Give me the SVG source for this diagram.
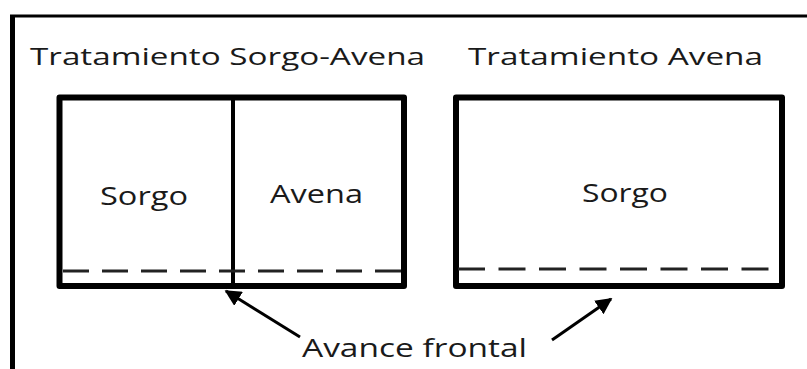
<svg xmlns="http://www.w3.org/2000/svg" width="807" height="369" viewBox="0 0 807 369">
  <defs>
    <style>
      .lbl { font-family: "Open Sans", "Liberation Sans", sans-serif; fill: #1a1a1a; }
      .box { fill: none; stroke: #000; stroke-width: 6; stroke-linejoin: round; }
      .dash { fill: none; stroke: #222; stroke-width: 3; }
      .arrow { fill: none; stroke: #000; stroke-width: 3; marker-end: url(#ah); }
    </style>
    <marker id="ah" viewBox="0 0 10 10" refX="9" refY="5" markerWidth="5.5" markerHeight="5.5" markerUnits="strokeWidth" orient="auto">
      <path d="M0,0 L10,5 L0,10 z" fill="#000"/>
    </marker>
  </defs>
  <rect width="807" height="369" fill="#fff"/>
  <g id="frame">
    <line x1="12.5" y1="15" x2="12.5" y2="369" stroke="#000" stroke-width="5"/>
    <line x1="10" y1="16" x2="807" y2="16" stroke="#000" stroke-width="3"/>
  </g>
  <g id="title-sorgo-avena">
    <text class="lbl" x="30" y="65" font-size="24" textLength="395" lengthAdjust="spacingAndGlyphs">Tratamiento Sorgo-Avena</text>
  </g>
  <g id="title-avena">
    <text class="lbl" x="468" y="65" font-size="24" textLength="295" lengthAdjust="spacingAndGlyphs">Tratamiento Avena</text>
  </g>
  <g id="box-sorgo-avena">
    <rect class="box" x="59.5" y="97.5" width="344.5" height="188.5"/>
    <line x1="233" y1="97" x2="233" y2="286" stroke="#000" stroke-width="4"/>
    <line class="dash" x1="63" y1="271" x2="401" y2="271" stroke-dasharray="26 13"/>
    <text class="lbl" x="100" y="205" font-size="25" textLength="88" lengthAdjust="spacingAndGlyphs">Sorgo</text>
    <text class="lbl" x="270" y="203" font-size="25" textLength="93" lengthAdjust="spacingAndGlyphs">Avena</text>
  </g>
  <g id="box-avena">
    <rect class="box" x="456" y="97.5" width="326" height="188.5"/>
    <line class="dash" x1="458" y1="269" x2="771" y2="269" stroke-dasharray="27 13.5"/>
    <text class="lbl" x="582" y="202" font-size="25" textLength="86" lengthAdjust="spacingAndGlyphs">Sorgo</text>
  </g>
  <g id="label-avance">
    <text class="lbl" x="302" y="357" font-size="26" textLength="225" lengthAdjust="spacingAndGlyphs">Avance frontal</text>
  </g>
  <g id="connectors">
    <line class="arrow" x1="300" y1="337" x2="226" y2="291"/>
    <line class="arrow" x1="552" y1="340" x2="611" y2="299"/>
  </g>
</svg>
